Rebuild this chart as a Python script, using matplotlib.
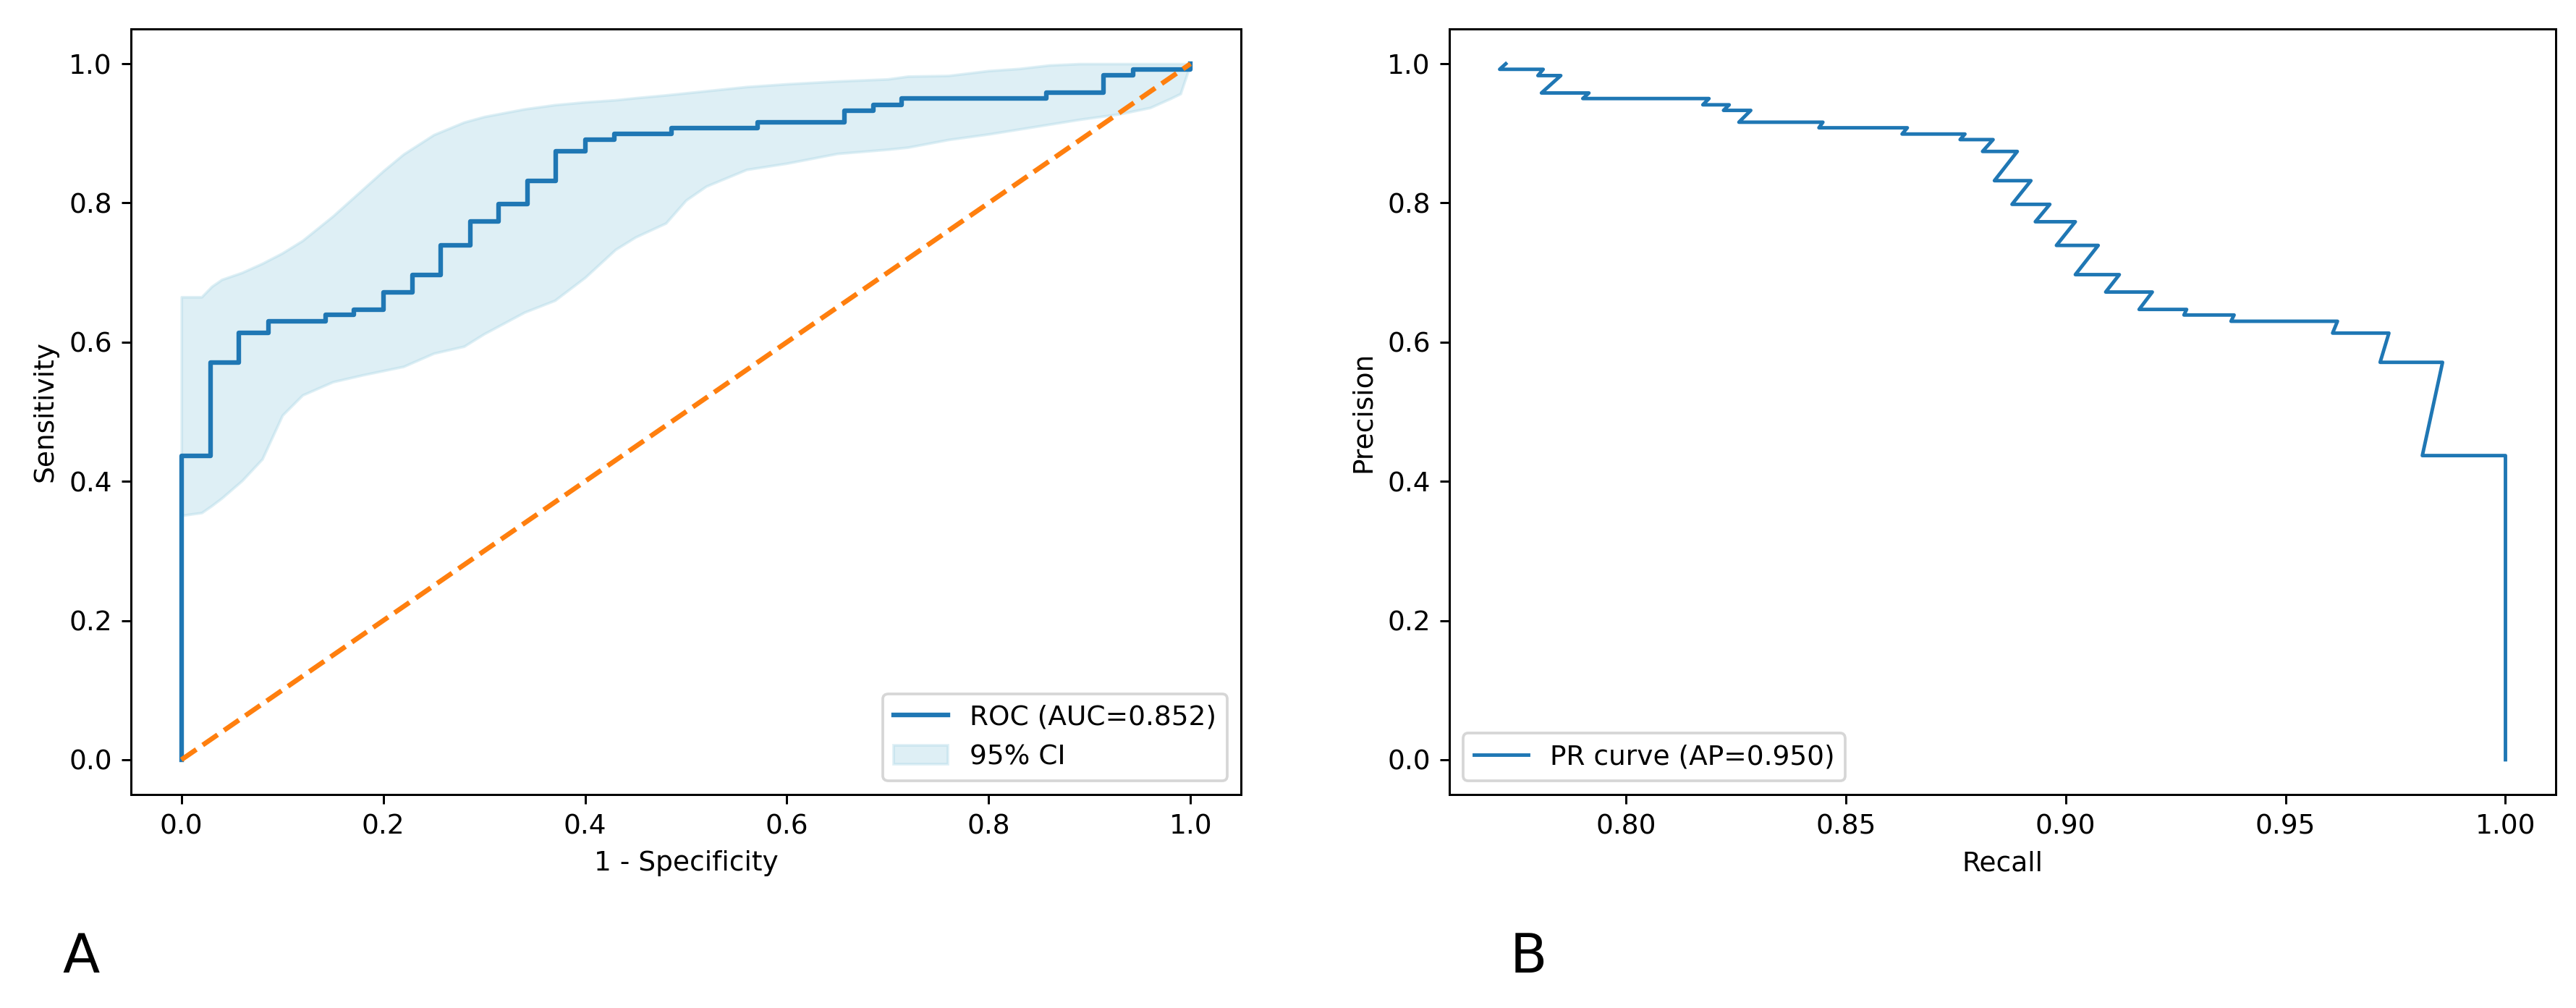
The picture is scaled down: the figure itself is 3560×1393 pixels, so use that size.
import matplotlib
matplotlib.use("Agg")
import matplotlib.pyplot as plt

# ROC curve corners (false positive rate, sensitivity)
fpr = [0.000, 0.000, 0.029, 0.029, 0.057, 0.057, 0.086, 0.086, 0.143, 0.143,
       0.171, 0.171, 0.200, 0.200, 0.229, 0.229, 0.257, 0.257, 0.286, 0.286,
       0.314, 0.314, 0.343, 0.343, 0.371, 0.371, 0.400, 0.400, 0.429, 0.429,
       0.486, 0.486, 0.571, 0.571, 0.657, 0.657, 0.686, 0.686, 0.714, 0.714,
       0.857, 0.857, 0.914, 0.914, 0.943, 0.943, 1.000, 1.000]
tpr = [0.000, 0.437, 0.437, 0.571, 0.571, 0.613, 0.613, 0.630, 0.630, 0.639,
       0.639, 0.647, 0.647, 0.672, 0.672, 0.697, 0.697, 0.739, 0.739, 0.773,
       0.773, 0.798, 0.798, 0.832, 0.832, 0.874, 0.874, 0.891, 0.891, 0.899,
       0.899, 0.908, 0.908, 0.916, 0.916, 0.933, 0.933, 0.941, 0.941, 0.950,
       0.950, 0.958, 0.958, 0.983, 0.983, 0.992, 0.992, 1.000]
roc_auc = 0.852

# bootstrap 95% CI band on a fpr grid
ci_fpr = [0.00, 0.02, 0.03, 0.04, 0.06, 0.08, 0.10, 0.12, 0.15, 0.18,
          0.20, 0.22, 0.25, 0.28, 0.30, 0.34, 0.37, 0.40, 0.43, 0.45,
          0.48, 0.50, 0.52, 0.56, 0.60, 0.65, 0.70, 0.72, 0.76, 0.80,
          0.83, 0.86, 0.89, 0.93, 0.96, 0.98, 0.99, 1.00]
ci_upper = [0.665, 0.665, 0.680, 0.690, 0.700, 0.713, 0.728, 0.746, 0.781, 0.820,
            0.846, 0.870, 0.898, 0.916, 0.924, 0.935, 0.941, 0.945, 0.948, 0.951,
            0.955, 0.958, 0.961, 0.967, 0.971, 0.975, 0.978, 0.982, 0.983, 0.990,
            0.993, 0.998, 1.000, 1.000, 1.000, 1.000, 1.000, 1.000]
ci_lower = [0.351, 0.355, 0.365, 0.376, 0.401, 0.432, 0.495, 0.524, 0.543, 0.553,
            0.559, 0.565, 0.584, 0.594, 0.612, 0.643, 0.660, 0.693, 0.733, 0.751,
            0.771, 0.804, 0.824, 0.848, 0.857, 0.871, 0.877, 0.880, 0.891, 0.899,
            0.906, 0.913, 0.920, 0.928, 0.937, 0.950, 0.957, 1.000]

# PR curve vertices
recall = [0.7727, 0.7713, 0.7812, 0.7800, 0.7852, 0.7808, 0.7916, 0.7902,
          0.8189, 0.8175, 0.8235, 0.8222, 0.8284, 0.8257, 0.8448, 0.8439,
          0.8640, 0.8628, 0.8771, 0.8760, 0.8835, 0.8811, 0.8890, 0.8838,
          0.8921, 0.8878, 0.8964, 0.8931, 0.9022, 0.8979, 0.9074, 0.9022,
          0.9122, 0.9091, 0.9197, 0.9167, 0.9275, 0.9269, 0.9383, 0.9376,
          0.9618, 0.9607, 0.9735, 0.9715, 0.9857, 0.9811, 1.0000, 1.0000]
precision = [1.000, 0.992, 0.992, 0.983, 0.983, 0.958, 0.958, 0.950,
             0.950, 0.941, 0.941, 0.933, 0.933, 0.916, 0.916, 0.908,
             0.908, 0.899, 0.899, 0.891, 0.891, 0.874, 0.874, 0.832,
             0.832, 0.798, 0.798, 0.773, 0.773, 0.739, 0.739, 0.697,
             0.697, 0.672, 0.672, 0.647, 0.647, 0.639, 0.639, 0.630,
             0.630, 0.613, 0.613, 0.571, 0.571, 0.437, 0.437, 0.000]
ap = 0.950

W, H, DPI = 3560, 1393, 270
fig = plt.figure(figsize=(W / DPI, H / DPI), dpi=DPI)
plt.rcParams["font.size"] = 10

top, bottom = 40, 1098
ax1 = fig.add_axes([181 / W, 1 - bottom / H, (1715 - 181) / W, (bottom - top) / H])
ax2 = fig.add_axes([2003 / W, 1 - bottom / H, (3532 - 2003) / W, (bottom - top) / H])

# --- A: ROC ---
ax1.plot(fpr, tpr, color="#1f77b4", lw=1.7, label=f"ROC (AUC={roc_auc:.3f})")
ax1.fill_between(ci_fpr, ci_lower, ci_upper, color="lightblue", alpha=0.4,
                 label="95% CI")
ax1.plot([0, 1], [0, 1], linestyle="--", color="#ff7f0e", lw=1.8)
ax1.set_xlabel("1 - Specificity")
ax1.set_ylabel("Sensitivity")
ax1.legend(loc="lower right")

# --- B: PR ---
ax2.plot(recall, precision, color="#1f77b4", lw=1.3, label=f"PR curve (AP={ap:.3f})")
ax2.set_xlabel("Recall")
ax2.set_ylabel("Precision")
ax2.legend(loc="lower left")

fig.text(86 / W, 1 - 1323 / H, "A", fontsize=20, va="center", ha="left")
fig.text(2087 / W, 1 - 1323 / H, "B", fontsize=20, va="center", ha="left")

fig.savefig("out.png", dpi=DPI)
